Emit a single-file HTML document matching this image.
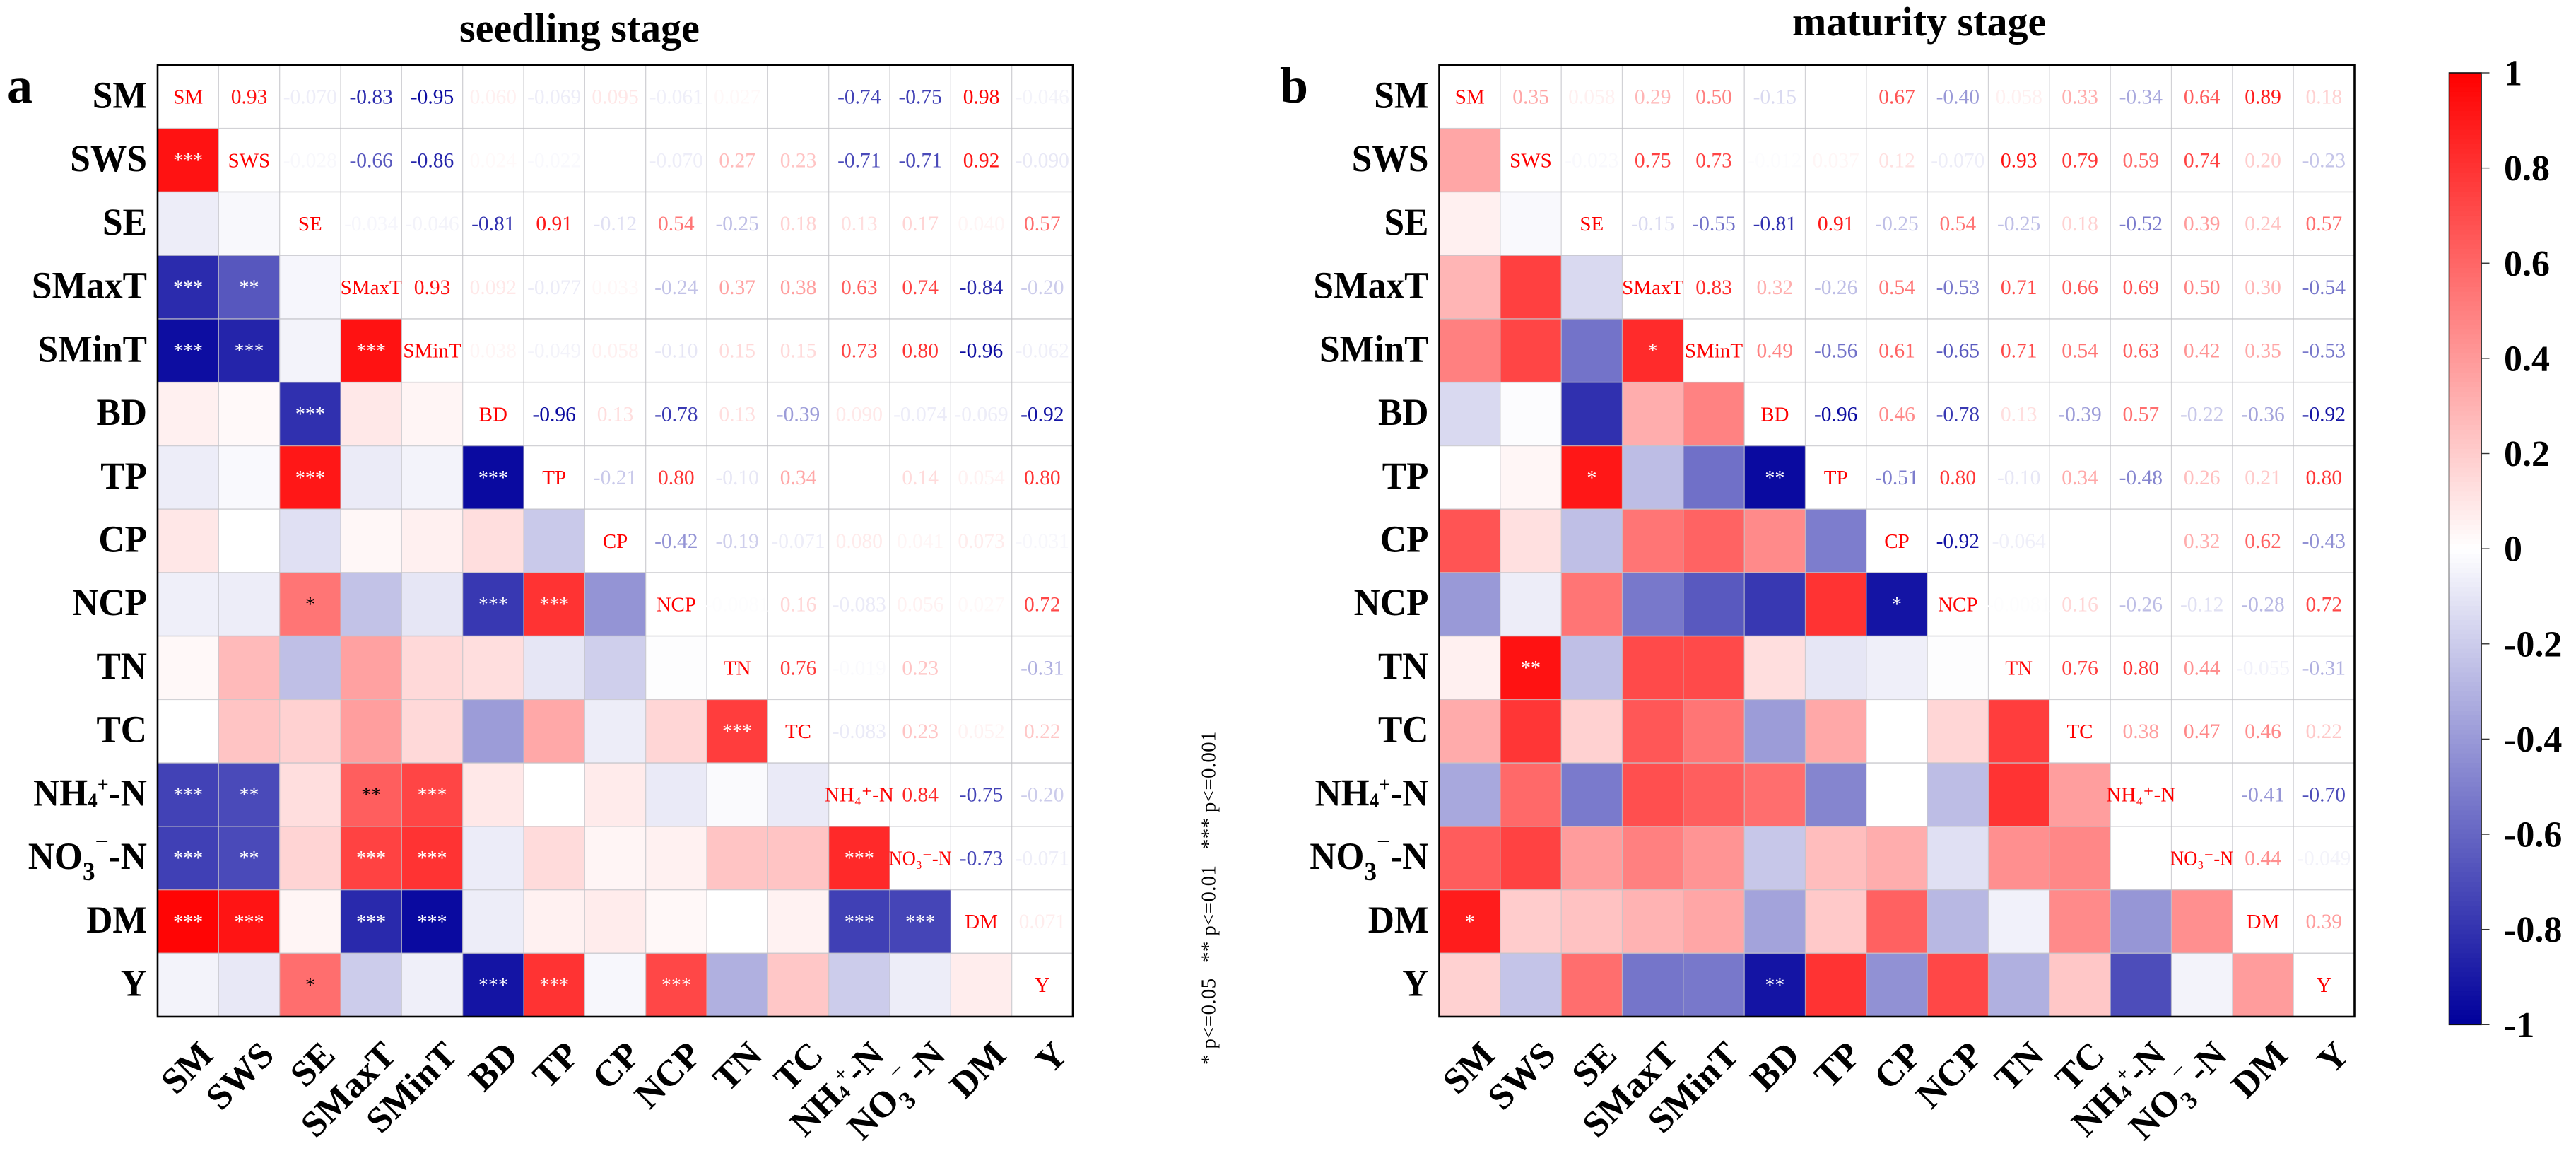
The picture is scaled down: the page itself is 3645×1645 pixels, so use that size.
<!DOCTYPE html>
<html lang="en">
<head>
<meta charset="utf-8">
<title>Correlation heatmaps: seedling and maturity stage</title>
<style>
html,body{margin:0;padding:0;background:#fff;}
svg{display:block;font-family:"Liberation Serif",serif;}
.note{white-space:pre;letter-spacing:0.3px;}
</style>
</head>
<body>
<svg id="figure" xmlns="http://www.w3.org/2000/svg" width="3645" height="1645" viewBox="0 0 3645 1645">
  <rect x="0" y="0" width="3645" height="1645" fill="#fff"/>
  <text x="650" y="59" font-size="58" font-weight="bold">seedling stage</text>
  <text x="2536" y="50" font-size="58" font-weight="bold">maturity stage</text>
  <text x="10" y="145" font-size="72" font-weight="bold">a</text>
  <text x="1811" y="145" font-size="72" font-weight="bold">b</text>
  <text class="note" transform="translate(1719.5,1506) rotate(-90)" font-size="29">* p&lt;=0.05   ** p&lt;=0.01   *** p&lt;=0.001</text>
  <g id="panel-a"></g>
  <g id="panel-b"></g>
  <g id="colorbar"></g>
</svg>
<script>
// Variable names shared by both panels
const categories = ['SM','SWS','SE','SMaxT','SMinT','BD','TP','CP','NCP','TN','TC','NH₄⁺-N','NO₃⁻-N','DM','Y'];

// Upper-triangle correlations, one row per variable; null = blank cell
const seedlingValues = [
  [0.93,-0.070,-0.83,-0.95,0.060,-0.069,0.095,-0.061,0.027,null,-0.74,-0.75,0.98,-0.046],
  [-0.028,-0.66,-0.86,0.024,-0.022,null,-0.070,0.27,0.23,-0.71,-0.71,0.92,-0.090],
  [-0.034,-0.046,-0.81,0.91,-0.12,0.54,-0.25,0.18,0.13,0.17,0.040,0.57],
  [0.93,0.092,-0.077,0.033,-0.24,0.37,0.38,0.63,0.74,-0.84,-0.20],
  [0.038,-0.049,0.058,-0.10,0.15,0.15,0.73,0.80,-0.96,-0.062],
  [-0.96,0.13,-0.78,0.13,-0.39,0.090,-0.074,-0.069,-0.92],
  [-0.21,0.80,-0.10,0.34,null,0.14,0.054,0.80],
  [-0.42,-0.19,-0.071,0.080,0.041,0.073,-0.031],
  [-0.0081,0.16,-0.083,0.056,0.027,0.72],
  [0.76,-0.019,0.23,null,-0.31],
  [-0.083,0.23,0.052,0.22],
  [0.84,-0.75,-0.20],
  [-0.73,-0.071],
  [0.071]
];
const maturityValues = [
  [0.35,0.058,0.29,0.50,-0.15,null,0.67,-0.40,0.058,0.33,-0.34,0.64,0.89,0.18],
  [-0.023,0.75,0.73,-0.012,0.037,0.12,-0.070,0.93,0.79,0.59,0.74,0.20,-0.23],
  [-0.15,-0.55,-0.81,0.91,-0.25,0.54,-0.25,0.18,-0.52,0.39,0.24,0.57],
  [0.83,0.32,-0.26,0.54,-0.53,0.71,0.66,0.69,0.50,0.30,-0.54],
  [0.49,-0.56,0.61,-0.65,0.71,0.54,0.63,0.42,0.35,-0.53],
  [-0.96,0.46,-0.78,0.13,-0.39,0.57,-0.22,-0.36,-0.92],
  [-0.51,0.80,-0.10,0.34,-0.48,0.26,0.21,0.80],
  [-0.92,-0.064,null,null,0.32,0.62,-0.43],
  [-0.0081,0.16,-0.26,-0.12,-0.28,0.72],
  [0.76,0.80,0.44,-0.055,-0.31],
  [0.38,0.47,0.46,0.22],
  [null,-0.41,-0.70],
  [0.44,-0.049],
  [0.39]
];

// Significance marks for the lower triangle: [row variable, column variable, stars]
const seedlingStars = [
  ['SWS','SM','***'],['SMaxT','SM','***'],['SMaxT','SWS','**'],
  ['SMinT','SM','***'],['SMinT','SWS','***'],['SMinT','SMaxT','***'],
  ['BD','SE','***'],['TP','SE','***'],['TP','BD','***'],
  ['NCP','SE','*'],['NCP','BD','***'],['NCP','TP','***'],['TC','TN','***'],
  ['NH₄⁺-N','SM','***'],['NH₄⁺-N','SWS','**'],['NH₄⁺-N','SMaxT','**'],['NH₄⁺-N','SMinT','***'],
  ['NO₃⁻-N','SM','***'],['NO₃⁻-N','SWS','**'],['NO₃⁻-N','SMaxT','***'],['NO₃⁻-N','SMinT','***'],['NO₃⁻-N','NH₄⁺-N','***'],
  ['DM','SM','***'],['DM','SWS','***'],['DM','SMaxT','***'],['DM','SMinT','***'],['DM','NH₄⁺-N','***'],['DM','NO₃⁻-N','***'],
  ['Y','SE','*'],['Y','BD','***'],['Y','TP','***'],['Y','NCP','***']
];
const maturityStars = [
  ['SMinT','SMaxT','*'],['TP','SE','*'],['TP','BD','**'],['NCP','CP','*'],
  ['TN','SWS','**'],['DM','SM','*'],['Y','BD','**']
];

// Colorbar tick values and printed labels
const colorbarTicks = [1,0.8,0.6,0.4,0.2,0,-0.2,-0.4,-0.6,-0.8,-1];
const colorbarTickLabels = ['1','0.8','0.6','0.4','0.2','0','-0.2','-0.4','-0.6','-0.8','-1'];

const SVGNS = 'http://www.w3.org/2000/svg';
const PLOT_TOP = 92, PLOT_BOTTOM = 1438, PLOT_WIDTH = 1295;
const CB_LEFT = 3465.5, CB_RIGHT = 3511, CB_TOP = 103, CB_BOTTOM = 1449.3, CB_BANDS = 200;

function make(tag, attrs, parent) {
  const el = document.createElementNS(SVGNS, tag);
  for (const k in attrs) el.setAttribute(k, attrs[k]);
  parent.appendChild(el);
  return el;
}

// Diverging colour scale: navy - white - red
function colorScale(v) {
  const t = Math.min(1, Math.abs(v));
  const light = Math.round(255 * (1 - t));
  if (v >= 0) return 'rgb(255,' + light + ',' + light + ')';
  const blue = Math.round(255 - t * 99);
  return 'rgb(' + light + ',' + light + ',' + blue + ')';
}

function fullMatrix(upper) {
  const n = categories.length;
  const m = [];
  for (let r = 0; r < n; r++) m.push(new Array(n).fill(null));
  upper.forEach(function (row, r) {
    row.forEach(function (v, k) {
      const c = r + 1 + k;
      m[r][c] = v;
      m[c][r] = v;
    });
  });
  return m;
}

// Axis label with chemical sub/superscripts drawn as tspans
function axisLabel(textEl, label) {
  if (label === 'NH₄⁺-N') {
    textEl.appendChild(document.createTextNode('NH'));
    make('tspan', {'font-size': 27, dy: 2}, textEl).textContent = '4';
    make('tspan', {'font-size': 28, dy: -21}, textEl).textContent = '+';
    make('tspan', {dy: 19}, textEl).textContent = '-N';
  } else if (label === 'NO₃⁻-N') {
    textEl.appendChild(document.createTextNode('NO'));
    make('tspan', {'font-size': 35, dy: 15}, textEl).textContent = '3';
    make('tspan', {'font-size': 34, dy: -41, 'font-weight': 'normal'}, textEl).textContent = '−';
    make('tspan', {dy: 26}, textEl).textContent = '-N';
  } else {
    textEl.textContent = label;
  }
}

function drawPanel(group, left, upper, stars) {
  const n = categories.length;
  const step = PLOT_WIDTH / n;
  const rowH = (PLOT_BOTTOM - PLOT_TOP) / n;
  const xScale = function (i) { return left + i * step; };
  const yScale = function (i) { return PLOT_TOP + i * rowH; };
  const matrix = fullMatrix(upper);

  // lower-triangle colour cells
  for (let r = 0; r < n; r++) {
    for (let c = 0; c < r; c++) {
      const v = matrix[r][c];
      const cell = make('rect', {
        x: xScale(c), y: yScale(r), width: step, height: rowH,
        fill: v === null ? '#fff' : colorScale(v)
      }, group);
      
      
    }
  }

  // grid lines
  for (let i = 1; i < n; i++) {
    const vLine = make('line', {
      x1: xScale(i), x2: xScale(i), y1: PLOT_TOP, y2: PLOT_BOTTOM,
      stroke: 'rgba(195,195,200,0.75)', 'stroke-width': 1.3
    }, group);
    
    
    const hLine = make('line', {
      x1: left, x2: left + PLOT_WIDTH, y1: yScale(i), y2: yScale(i),
      stroke: 'rgba(195,195,200,0.75)', 'stroke-width': 1.6
    }, group);
    
    
  }

  // upper-triangle printed values
  for (let r = 0; r < n; r++) {
    for (let c = r + 1; c < n; c++) {
      const v = matrix[r][c];
      if (v === null) continue;
      const t = make('text', {
        x: xScale(c + 0.5), y: yScale(r + 0.5) + 9.8,
        'font-size': 29.5, 'text-anchor': 'middle', fill: colorScale(v)
      }, group);
      t.textContent = v.toPrecision(2);
      
      
    }
  }

  // diagonal names
  categories.forEach(function (name, i) {
    const t = make('text', {
      x: xScale(i + 0.5), y: yScale(i + 0.5) + 9.8,
      'font-size': 29, 'text-anchor': 'middle', fill: '#ff0000'
    }, group);
    t.textContent = name;
    if (name === 'NO₃⁻-N') {
      t.setAttribute('textLength', '89');
      t.setAttribute('lengthAdjust', 'spacingAndGlyphs');
    }
    
    
  });

  // significance stars
  stars.forEach(function (s) {
    const r = categories.indexOf(s[0]);
    const c = categories.indexOf(s[1]);
    const v = matrix[r][c];
    const t = make('text', {
      x: xScale(c + 0.5), y: yScale(r + 0.5) + 9.5,
      'font-size': 28, 'text-anchor': 'middle',
      fill: Math.abs(v) < 0.65 ? '#000' : '#fff'
    }, group);
    t.textContent = s[2];
    
    
  });

  // frame
  const frame = make('rect', {
    x: left, y: PLOT_TOP, width: PLOT_WIDTH, height: PLOT_BOTTOM - PLOT_TOP,
    fill: 'none', stroke: '#000', 'stroke-width': 2.6
  }, group);
  
  

  // axis labels
  categories.forEach(function (name, i) {
    const ly = yScale(i + 0.5) + 15.5;
    const yl = make('text', {
      transform: 'translate(' + (left - 15) + ',' + ly + ') scale(1,1.05)',
      'font-size': 51.5, 'font-weight': 'bold', 'text-anchor': 'end', fill: '#000'
    }, group);
    axisLabel(yl, name);
    
    

    const ax = xScale(i + 0.5) + 38;
    const xl = make('text', {
      transform: 'translate(' + ax + ',1495) rotate(-45)',
      'font-size': 52, 'font-weight': 'bold', 'text-anchor': 'end', fill: '#000'
    }, group);
    axisLabel(xl, name);
    
    
  });
}

function drawColorbar(group) {
  const cbY = function (v) { return CB_TOP + (1 - v) / 2 * (CB_BOTTOM - CB_TOP); };
  const bandH = (CB_BOTTOM - CB_TOP) / CB_BANDS;
  for (let i = 0; i < CB_BANDS; i++) {
    const hi = 1 - 2 * i / CB_BANDS;
    const mid = hi - 1 / CB_BANDS;
    const band = make('rect', {
      x: CB_LEFT, y: cbY(hi), width: CB_RIGHT - CB_LEFT, height: bandH + 0.6,
      fill: colorScale(mid)
    }, group);
    
    
  }
  const frame = make('rect', {
    x: CB_LEFT, y: CB_TOP, width: CB_RIGHT - CB_LEFT, height: CB_BOTTOM - CB_TOP,
    fill: 'none', stroke: '#111', 'stroke-width': 1.6
  }, group);
  
  
  colorbarTicks.forEach(function (v, i) {
    const tick = make('line', {
      x1: CB_RIGHT, x2: CB_RIGHT + 11.5, y1: cbY(v), y2: cbY(v),
      stroke: '#333', 'stroke-width': 1.4
    }, group);
    
    
    const label = make('text', {
      x: 3543, y: cbY(v) + 17.5, 'font-size': 52, 'font-weight': 'bold', fill: '#000'
    }, group);
    label.textContent = colorbarTickLabels[i];
    
    
  });
}

drawPanel(document.getElementById('panel-a'), 223, seedlingValues, seedlingStars);
drawPanel(document.getElementById('panel-b'), 2036.5, maturityValues, maturityStars);
drawColorbar(document.getElementById('colorbar'));
</script>
</body>
</html>
